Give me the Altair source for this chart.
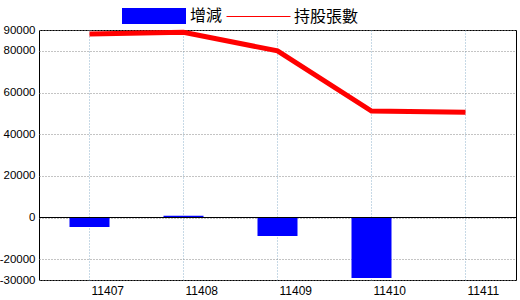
import altair as alt
import pandas as pd

months = ["11407", "11408", "11409", "11410", "11411"]
change = [-4500, 800, -8900, -29000, None]
holdings = [88100, 88900, 80000, 51100, 50500]
y_ticks = [90000, 80000, 60000, 40000, 20000, 0, -20000, -30000]
bar_name = "增減"
line_name = "持股張數"

df = pd.DataFrame({"month": months, "change": change, "holdings": holdings})
zero = pd.DataFrame({"z": [0]})

NUM_FONT = "Liberation Sans"
CJK_FONT = "Noto Sans CJK TC"

x = alt.X(
    "month:N",
    sort=months,
    scale=alt.Scale(paddingInner=0.5745, paddingOuter=0.3245),
    axis=alt.Axis(
        title=None, labelAngle=0, labelAlign="left", labelBaseline="top",
        labelOffset=2, labelPadding=5, ticks=False, domain=False,
        grid=True, gridColor="#8fb3cc", gridDash=[1, 2], gridOpacity=1,
        labelFont=NUM_FONT, labelFontSize=12, labelColor="black",
        labelOverlap=False,
    ),
)

yscale = alt.Scale(domain=[-30000, 90000], nice=False, zero=False)
yaxis = alt.Axis(
    title=None, values=y_ticks, labelExpr="'' + datum.value",
    ticks=False, domain=False,
    labelPadding=4, labelOverlap=False, labelFlush=False,
    grid=True, gridColor="#888888", gridDash=[1, 2], gridOpacity=1,
    labelFont=NUM_FONT, labelFontSize=11.5, labelColor="black",
    labelBaseline="middle",
)

base = alt.Chart(df)

bars = base.transform_calculate(s1=f"'{bar_name}'").mark_bar(strokeWidth=0).encode(
    x=x,
    y=alt.Y("change:Q", scale=yscale, axis=yaxis),
    fill=alt.Fill(
        "s1:N",
        scale=alt.Scale(domain=[bar_name], range=["#0000ff"]),
        legend=alt.Legend(
            title=None, orient="none", legendX=83, legendY=-46, padding=0,
            symbolType="M-1,-0.25H1V0.25H-1Z", symbolSize=4096,
            symbolStrokeWidth=0, labelOffset=4,
            labelFont=CJK_FONT, labelFontSize=16, labelColor="black",
        ),
    ),
)

rule = alt.Chart(zero).mark_rule(color="black", strokeWidth=1).encode(
    y=alt.Y("z:Q", scale=yscale, axis=yaxis)
)

line = base.transform_calculate(s2=f"'{line_name}'").mark_line(strokeWidth=5).encode(
    x=x,
    y=alt.Y("holdings:Q", scale=yscale, axis=yaxis),
    stroke=alt.Stroke(
        "s2:N",
        scale=alt.Scale(domain=[line_name], range=["#ff0000"]),
        legend=alt.Legend(
            title=None, orient="none", legendX=187, legendY=-46, padding=0,
            symbolType="stroke", symbolSize=4096, symbolStrokeWidth=1,
            labelOffset=3,
            labelFont=CJK_FONT, labelFontSize=16, labelColor="black",
        ),
    ),
)

chart = (
    alt.layer(bars, rule, line)
    .resolve_scale(y="shared")
    .properties(
        width=477, height=250,
        autosize=alt.AutoSizeParams(type="none"),
        padding={"left": 39, "top": 30, "right": 4, "bottom": 20},
        background="white",
    )
    .configure_view(stroke="black", strokeWidth=1)
    .configure_axis(labelOverlap=False)
)

chart.save("out.html", embed_options={"renderer": "svg", "actions": False})
